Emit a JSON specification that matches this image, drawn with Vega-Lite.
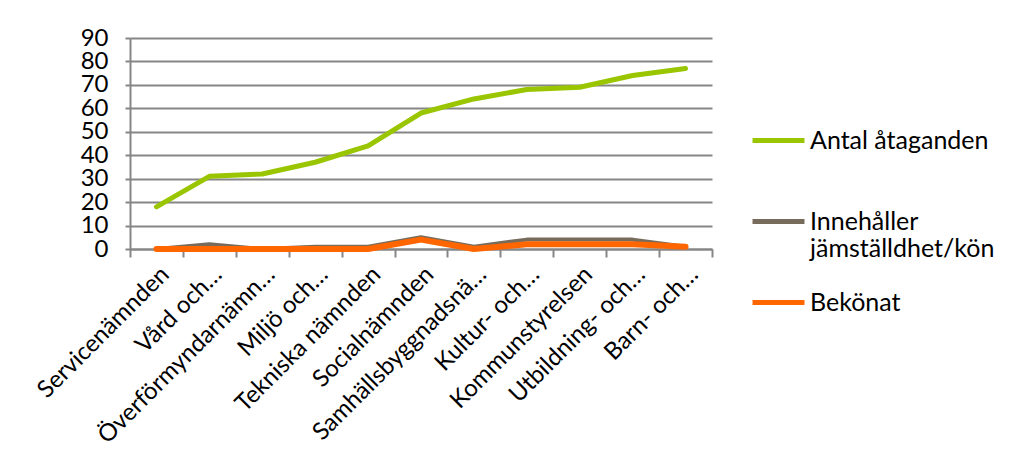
{
  "$schema": "https://vega.github.io/schema/vega-lite/v6.json",
  "width": 582,
  "height": 211,
  "autosize": "none",
  "padding": {"left": 130, "top": 38, "right": 299, "bottom": 212},
  "background": "white",
  "config": {
    "view": {"stroke": null},
    "font": "Lato",
    "axis": {"labelFont": "Lato", "labelColor": "#000000", "labelFontSize": 24, "labelOverlap": false}
  },
  "data": {
    "values": [
      {"namnd": "Servicenämnden", "serie": "Antal åtaganden", "v": 18},
      {"namnd": "Vård och…", "serie": "Antal åtaganden", "v": 31},
      {"namnd": "Överförmyndarnämn…", "serie": "Antal åtaganden", "v": 32},
      {"namnd": "Miljö och…", "serie": "Antal åtaganden", "v": 37},
      {"namnd": "Tekniska nämnden", "serie": "Antal åtaganden", "v": 44},
      {"namnd": "Socialnämnden", "serie": "Antal åtaganden", "v": 58},
      {"namnd": "Samhällsbyggnadsnä…", "serie": "Antal åtaganden", "v": 64},
      {"namnd": "Kultur- och…", "serie": "Antal åtaganden", "v": 68},
      {"namnd": "Kommunstyrelsen", "serie": "Antal åtaganden", "v": 69},
      {"namnd": "Utbildning- och…", "serie": "Antal åtaganden", "v": 74},
      {"namnd": "Barn- och…", "serie": "Antal åtaganden", "v": 77},
      {"namnd": "Servicenämnden", "serie": "Innehåller jämställdhet/kön", "v": 0},
      {"namnd": "Vård och…", "serie": "Innehåller jämställdhet/kön", "v": 2},
      {"namnd": "Överförmyndarnämn…", "serie": "Innehåller jämställdhet/kön", "v": 0},
      {"namnd": "Miljö och…", "serie": "Innehåller jämställdhet/kön", "v": 1},
      {"namnd": "Tekniska nämnden", "serie": "Innehåller jämställdhet/kön", "v": 1},
      {"namnd": "Socialnämnden", "serie": "Innehåller jämställdhet/kön", "v": 5},
      {"namnd": "Samhällsbyggnadsnä…", "serie": "Innehåller jämställdhet/kön", "v": 1},
      {"namnd": "Kultur- och…", "serie": "Innehåller jämställdhet/kön", "v": 4},
      {"namnd": "Kommunstyrelsen", "serie": "Innehåller jämställdhet/kön", "v": 4},
      {"namnd": "Utbildning- och…", "serie": "Innehåller jämställdhet/kön", "v": 4},
      {"namnd": "Barn- och…", "serie": "Innehåller jämställdhet/kön", "v": 1},
      {"namnd": "Servicenämnden", "serie": "Bekönat", "v": 0},
      {"namnd": "Vård och…", "serie": "Bekönat", "v": 0},
      {"namnd": "Överförmyndarnämn…", "serie": "Bekönat", "v": 0},
      {"namnd": "Miljö och…", "serie": "Bekönat", "v": 0},
      {"namnd": "Tekniska nämnden", "serie": "Bekönat", "v": 0},
      {"namnd": "Socialnämnden", "serie": "Bekönat", "v": 4},
      {"namnd": "Samhällsbyggnadsnä…", "serie": "Bekönat", "v": 0},
      {"namnd": "Kultur- och…", "serie": "Bekönat", "v": 2},
      {"namnd": "Kommunstyrelsen", "serie": "Bekönat", "v": 2},
      {"namnd": "Utbildning- och…", "serie": "Bekönat", "v": 2},
      {"namnd": "Barn- och…", "serie": "Bekönat", "v": 1}
    ]
  },
  "encoding": {
    "x": {
      "field": "namnd",
      "type": "nominal",
      "sort": null,
      "scale": {"type": "band", "paddingInner": 0, "paddingOuter": 0},
      "axis": {
        "title": null,
        "labelAngle": -45,
        "labelAlign": "right",
        "labelBaseline": "top",
        "labelPadding": 5,
        "labelFontSize": 24,
        "labelLimit": 400,
        "tickBand": "extent",
        "tickSize": 8,
        "tickColor": "#868686",
        "tickWidth": 2,
        "domainColor": "#868686",
        "domainWidth": 2,
        "grid": false
      }
    },
    "y": {
      "field": "v",
      "type": "quantitative",
      "scale": {"domain": [0, 90], "nice": false},
      "axis": {
        "title": null,
        "values": [0, 10, 20, 30, 40, 50, 60, 70, 80, 90],
        "tickSize": 5,
        "tickColor": "#868686",
        "tickWidth": 2,
        "domainColor": "#868686",
        "domainWidth": 2,
        "gridColor": "#868686",
        "gridWidth": 2,
        "labelPadding": 17
      }
    },
    "color": {
      "field": "serie",
      "type": "nominal",
      "scale": {
        "domain": ["Antal åtaganden", "Innehåller jämställdhet/kön", "Bekönat"],
        "range": ["#99C600", "#776B5C", "#FF6600"]
      },
      "legend": {
        "title": null,
        "orient": "none",
        "legendX": 620,
        "legendY": 74,
        "symbolType": "stroke",
        "symbolSize": 2700,
        "symbolStrokeWidth": 5,
        "labelFont": "Lato",
        "labelFontSize": 25,
        "labelColor": "#000000",
        "labelOffset": 3,
        "labelLimit": 400,
        "rowPadding": 12,
        "labelExpr": "datum.label == 'Innehåller jämställdhet/kön' ? ['Innehåller', 'jämställdhet/kön'] : (datum.label == 'Antal åtaganden' ? ['Antal åtaganden', ' '] : datum.label)"
      }
    }
  },
  "layer": [
    {
      "transform": [{"filter": "datum.serie == 'Antal åtaganden'"}],
      "mark": {"type": "line", "strokeWidth": 5, "strokeCap": "round", "strokeJoin": "round"}
    },
    {
      "transform": [{"filter": "datum.serie == 'Innehåller jämställdhet/kön'"}],
      "mark": {"type": "line", "strokeWidth": 4, "strokeCap": "round", "strokeJoin": "round"}
    },
    {
      "transform": [{"filter": "datum.serie == 'Bekönat'"}],
      "mark": {"type": "line", "strokeWidth": 6, "strokeCap": "round", "strokeJoin": "round"}
    }
  ]
}
